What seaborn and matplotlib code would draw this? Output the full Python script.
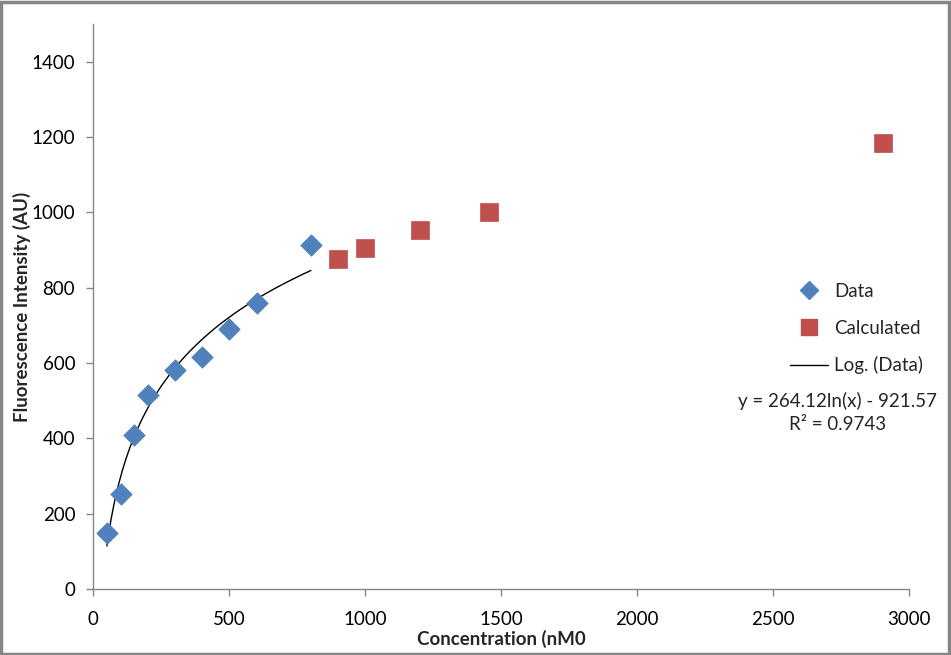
import numpy as np
import pandas as pd
import matplotlib
matplotlib.use("Agg")
import matplotlib.pyplot as plt
import seaborn as sns
from matplotlib.patches import Rectangle
from matplotlib.lines import Line2D

# measured points
data_conc = [50, 100, 150, 200, 300, 400, 500, 600, 800]
data_fluor = [148, 252, 408, 516, 581, 616, 690, 758, 913]

# calculated points
calc_conc = [900, 1000, 1200, 1455, 2905]
calc_fluor = [875, 904, 952, 1002, 1185]

x_ticks = [0, 500, 1000, 1500, 2000, 2500, 3000]
y_ticks = [0, 200, 400, 600, 800, 1000, 1200, 1400]

eq_text = "y = 264.12ln(x) - 921.57"
r2_text = "R\u00b2 = 0.9743"

blue = "#4F81BD"
red = "#C0504D"
grey = "#868686"

sns.set_style("white")
plt.rcParams['font.family'] = ['Lato', 'DejaVu Sans']
fs = 13.5

fig = plt.figure(figsize=(9.51, 6.55), dpi=100)
ax = fig.add_axes([93.3 / 951, 1 - 589 / 655, (909.3 - 93.3) / 951, (589 - 24) / 655])

df_data = pd.DataFrame({"conc": data_conc, "fluor": data_fluor})
df_calc = pd.DataFrame({"conc": calc_conc, "fluor": calc_fluor})

# log trendline fitted to the measured data (same as excel)
slope, intercept = np.polyfit(np.log(df_data["conc"]), df_data["fluor"], 1)
xs = np.linspace(min(data_conc), max(data_conc), 200)
df_fit = pd.DataFrame({"conc": xs, "fluor": slope * np.log(xs) + intercept})

sns.lineplot(data=df_fit, x="conc", y="fluor", color="black", linewidth=1.0, ax=ax)
sns.scatterplot(data=df_data, x="conc", y="fluor", marker="D", s=120, color=blue,
                edgecolor=blue, linewidth=0.5, ax=ax, zorder=3)
sns.scatterplot(data=df_calc, x="conc", y="fluor", marker="s", s=150, color=red,
                edgecolor=red, linewidth=0.5, ax=ax, zorder=3)

ax.set_xlim(0, 3000)
ax.set_ylim(0, 1500)
ax.set_xticks(x_ticks)
ax.set_yticks(y_ticks)
ax.tick_params(axis="both", direction="out", length=5, width=1, color=grey,
               labelsize=fs, labelcolor="black", left=True, bottom=True)
ax.tick_params(axis="y", pad=8)
ax.tick_params(axis="x", pad=11)
for side in ["top", "right"]:
    ax.spines[side].set_visible(False)
for side in ["left", "bottom"]:
    ax.spines[side].set_color(grey)
    ax.spines[side].set_linewidth(1.0)

ax.set_xlabel("Concentration (nM0", fontsize=fs, fontweight="bold")
ax.set_ylabel("Fluorescence Intensity (AU)", fontsize=fs, fontweight="bold")
ax.xaxis.set_label_coords(0.5, -(639 - 589) / 565)
ax.yaxis.set_label_coords(-(93.3 - 22) / 816, 0.5)
ax.xaxis.label.set_va("center")
ax.yaxis.label.set_va("center")

handles = [
    Line2D([], [], marker="D", color=blue, linestyle="None", markersize=9),
    Line2D([], [], marker="s", color=red, linestyle="None", markersize=11),
    Line2D([], [], color="black", linewidth=1.0),
]
labels = ["Data", "Calculated", "Log. (Data)"]
ax.legend(handles, labels, loc="upper left", bbox_to_anchor=(790 / 951, 1 - 283 / 655),
          bbox_transform=fig.transFigure, frameon=False, fontsize=fs,
          handlelength=2.0, handletextpad=0.35, labelspacing=1.05, borderpad=0,
          borderaxespad=0)

fig.text(838 / 951, 1 - 401 / 655, eq_text, ha="center", va="center", fontsize=fs)
fig.text(838 / 951, 1 - 424 / 655, r2_text, ha="center", va="center", fontsize=fs)

# chart area border
fig.patches.append(Rectangle((0.001, 0.002), 0.997, 0.995, transform=fig.transFigure,
                             fill=False, edgecolor=grey, linewidth=2.5))

fig.savefig("out.png", dpi=100)
